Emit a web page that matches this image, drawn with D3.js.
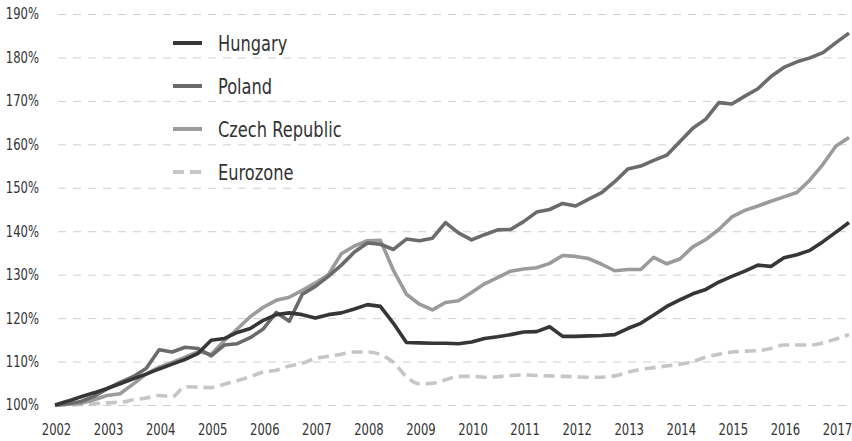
<!DOCTYPE html>
<html>
<head>
<meta charset="utf-8">
<script src="https://cdn.jsdelivr.net/npm/d3@7"></script>
<style>
  body { margin: 0; background: #fff; }
  svg text { font-family: "Liberation Sans Narrow", "DejaVu Sans Condensed", "Arial Narrow", sans-serif; }
</style>
</head>
<body>
<div id="chart"></div>
<script>
// years on the axis, data is quarterly 2002Q1 .. 2017Q2
var years = [2002, 2003, 2004, 2005, 2006, 2007, 2008, 2009, 2010, 2011, 2012, 2013, 2014, 2015, 2016, 2017];
var yTicks = [100, 110, 120, 130, 140, 150, 160, 170, 180, 190];

var hungary = [
  100, 100.9, 101.9, 102.8, 103.8, 104.9, 106, 107.1,
  108.3, 109.4, 110.5, 111.9, 114.9, 115.3, 116.7, 117.6,
  119.5, 120.8, 121.2, 120.8, 120.0, 120.8, 121.2, 122.1,
  123.1, 122.7, 118.8, 114.4, 114.3, 114.2, 114.2, 114.1,
  114.5, 115.3, 115.7, 116.2, 116.8, 116.9, 118.0, 115.8,
  115.8, 115.9, 116.0, 116.2, 117.6, 118.8, 120.7, 122.7,
  124.2, 125.6, 126.6, 128.3, 129.6, 130.8, 132.2, 131.9,
  133.9, 134.6, 135.6, 137.6, 139.8, 142.0
];
var poland = [
  100, 100.3, 100.8, 102.0, 103.7, 105.2, 106.5, 108.4,
  112.7, 112.2, 113.3, 113.0, 111.3, 113.8, 114.1, 115.5,
  117.5, 121.3, 119.3, 125.5, 127.3, 129.6, 132.2, 135.2,
  137.3, 137.0, 135.8, 138.2, 137.8, 138.4, 142.0, 139.6,
  138.0, 139.2, 140.3, 140.4, 142.2, 144.4, 145.0, 146.4,
  145.8, 147.4, 148.9, 151.4, 154.3, 155.0, 156.3, 157.5,
  160.6, 163.7, 165.8, 169.6, 169.3, 171.1, 172.8, 175.6,
  177.7, 179.0, 179.9, 181.1, 183.4, 185.6
];
var czech = [
  100, 100.2, 100.4, 101.2, 102.2, 102.6, 104.8, 107.1,
  108.7, 109.8, 111.0, 112.3, 111.6, 114.8, 117.5, 120.3,
  122.5, 124.1, 124.8, 126.4, 128.1, 130.0, 134.8, 136.6,
  137.8, 137.9, 131.0, 125.5, 123.2, 121.9, 123.6, 124.0,
  125.9, 127.9, 129.3, 130.8, 131.3, 131.6, 132.6, 134.4,
  134.2, 133.7, 132.4, 130.9, 131.2, 131.2, 134.0, 132.5,
  133.6, 136.4, 138.1, 140.4, 143.3, 144.8, 145.8, 146.9,
  147.9, 148.9, 151.8, 155.4, 159.6, 161.6
];
var eurozone = [
  100, 100.0, 100.1, 100.3, 100.5, 100.6, 101.2, 101.6,
  102.2, 101.9, 104.2, 104.1, 104.0, 104.8, 105.6, 106.5,
  107.6, 108.0, 109.0, 109.6, 110.7, 111.2, 111.7, 112.2,
  112.2, 111.6, 109.8, 106.5, 104.9, 105.0, 105.8, 106.6,
  106.6, 106.4, 106.5, 106.8, 106.9, 106.8, 106.7, 106.6,
  106.5, 106.4, 106.4, 106.7, 107.5, 108.2, 108.6, 109.0,
  109.4, 110.0, 111.0, 111.7, 112.2, 112.4, 112.5, 113.0,
  113.8, 113.8, 113.8, 114.3, 115.2, 116.2
];

var seriesNames = ["Hungary", "Poland", "Czech Republic", "Eurozone"];
var seriesValues = [hungary, poland, czech, eurozone];
var seriesColors = ["#363636", "#6b6b6b", "#9b9b9b", "#c6c6c8"];

// quarter dates as decimal years
var quarters = [];
years.forEach(function(y){ [0, 0.25, 0.5, 0.75].forEach(function(q){ quarters.push(y + q); }); });
quarters = quarters.slice(0, hungary.length);

var width = 852, height = 441;
var squeeze = "scale(0.86,1)"; // reference font is narrower than what we have

var svg = d3.select("#chart").append("svg")
    .attr("width", width)
    .attr("height", height);

var x = d3.scaleLinear().domain([2002, 2017.25]).range([55, 849]);
var y = d3.scaleLinear().domain([100, 190]).range([405, 14]);

// grid lines
svg.append("g").selectAll("line")
    .data(yTicks)
    .enter().append("line")
    .attr("x1", 58).attr("x2", width)
    .attr("y1", function(d){ return y(d) + 0.5; })
    .attr("y2", function(d){ return y(d) + 0.5; })
    .attr("stroke", "#cfcfcf")
    .attr("stroke-width", 1)
    .attr("stroke-dasharray", "8,7");

// y labels
svg.append("g").selectAll("g")
    .data(yTicks)
    .enter().append("g")
    .attr("transform", function(d){ return "translate(39," + y(d) + ")"; })
    .append("text")
    .attr("transform", squeeze)
    .attr("dy", "0.36em")
    .attr("text-anchor", "end")
    .attr("font-size", 15)
    .attr("fill", "#333")
    .text(function(d){ return d + "%"; });

// x axis
var xAxis = d3.axisBottom(x)
    .tickValues(years)
    .tickFormat(d3.format("d"))
    .tickSize(0)
    .tickPadding(0);

var gx = svg.append("g")
    .attr("transform", "translate(1,424)")
    .call(xAxis);
gx.select(".domain").remove();
gx.selectAll("text")
    .attr("font-size", 15)
    .attr("fill", "#333")
    .attr("font-family", null)
    .attr("transform", squeeze);

// lines
var line = d3.line()
    .x(function(d, i){ return x(quarters[i]); })
    .y(function(d){ return y(d); });

var smooth = d3.line()
    .x(function(d, i){ return x(quarters[i]); })
    .y(function(d){ return y(d); })
    .curve(d3.curveMonotoneX);

// draw eurozone first so it sits below
[3, 2, 1, 0].forEach(function(k){
    svg.append("path")
        .datum(seriesValues[k])
        .attr("fill", "none")
        .attr("stroke", seriesColors[k])
        .attr("stroke-width", 3.6)
        .attr("stroke-linejoin", "round")
        .attr("stroke-dasharray", k == 3 ? "11,6" : null)
        .attr("d", k == 3 ? smooth : line);
});

// legend
var legend = svg.append("g").selectAll("g")
    .data(seriesNames)
    .enter().append("g")
    .attr("transform", function(d, i){ return "translate(0," + (43 + i * 43) + ")"; });

legend.append("line")
    .attr("x1", 173).attr("x2", 202)
    .attr("y1", 0).attr("y2", 0)
    .attr("stroke", function(d, i){ return seriesColors[i]; })
    .attr("stroke-width", 4)
    .attr("stroke-dasharray", function(d, i){ return i == 3 ? "11,6" : null; });

legend.append("g")
    .attr("transform", "translate(218,0)")
    .append("text")
    .attr("transform", squeeze)
    .attr("dy", "0.36em")
    .attr("font-size", 21)
    .attr("fill", "#333")
    .text(function(d){ return d; });
</script>
</body>
</html>
